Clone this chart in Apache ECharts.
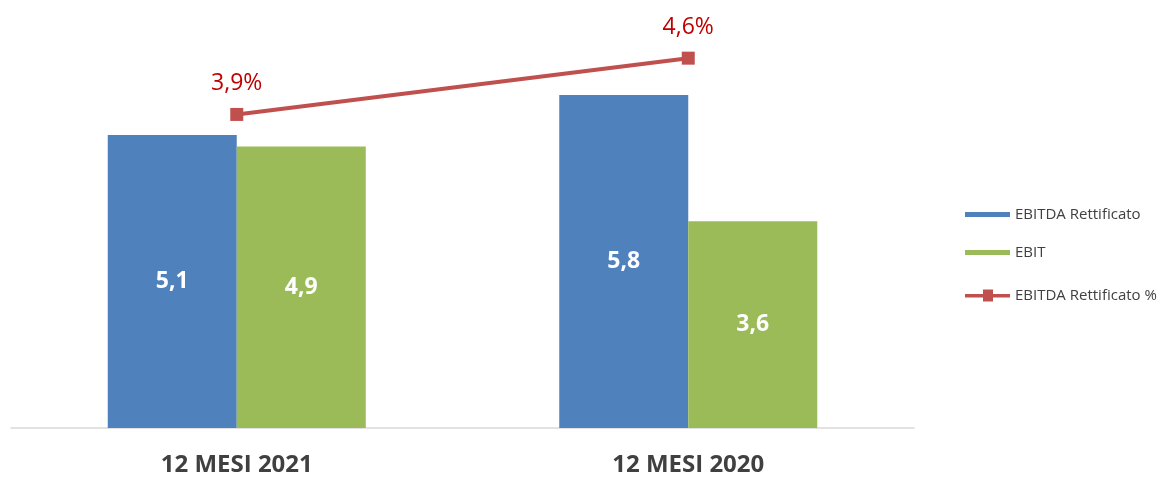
<!DOCTYPE html>
<html><head><meta charset="utf-8">
<script src="https://cdn.jsdelivr.net/npm/echarts@6/dist/echarts.min.js"></script>
<style>html,body{margin:0;padding:0;background:#fff}#c{width:1166px;height:477px}</style>
</head><body><div id="c"></div>
<script>
const categories = ['12 MESI 2021', '12 MESI 2020'];
const ebitdaRett = [5.1, 5.8];
const ebit = [4.9, 3.6];
const ebitdaPct = [3.9, 4.6];
const fmt = v => String(v).replace('.', ',');
const chart = echarts.init(document.getElementById('c'));
const legendText = { fontSize: 15, color: '#404040', fontFamily: 'Open Sans' };
chart.setOption({
  animation: false,
  textStyle: { fontFamily: 'Open Sans' },
  grid: { left: 11, right: 252, top: 26, bottom: 47, containLabel: false },
  legend: [
    {
      orient: 'vertical', left: 965, top: 207, padding: 0, itemWidth: 45, itemHeight: 5, itemGap: 23,
      textStyle: legendText,
      data: [
        { name: 'EBITDA Rettificato', icon: 'rect' },
        { name: 'EBIT', icon: 'rect' }
      ]
    },
    {
      orient: 'vertical', left: 965, top: 288, padding: 0, itemWidth: 45, itemHeight: 12,
      textStyle: legendText,
      data: [
        { name: 'EBITDA Rettificato %', icon: 'path://M0,4.5h18v-4.5h10v4.5h17v3.5h-17v4h-10v-4h-18z', itemStyle: { color: '#c0504d' } }
      ]
    }
  ],
  xAxis: {
    type: 'category', data: categories,
    axisLine: { lineStyle: { color: '#d9d9d9', width: 1.5 } },
    axisTick: { show: false },
    axisLabel: { fontSize: 24, fontWeight: 'bold', color: '#404040', margin: 25, fontFamily: 'Open Sans' }
  },
  yAxis: [
    { type: 'value', min: 0, max: 7, show: false, splitLine: { show: false } },
    { type: 'value', min: 0, max: 5, show: false, splitLine: { show: false } }
  ],
  series: [
    {
      name: 'EBITDA Rettificato', type: 'bar', data: ebitdaRett, barWidth: 129, barGap: '0%',
      itemStyle: { color: '#4f81bd' },
      label: { show: true, position: 'inside', formatter: p => fmt(p.value), color: '#fff', fontSize: 23, fontWeight: 'bold' }
    },
    {
      name: 'EBIT', type: 'bar', data: ebit, barWidth: 129, barGap: '0%',
      itemStyle: { color: '#9bbb59' },
      label: { show: true, position: 'inside', formatter: p => fmt(p.value), color: '#fff', fontSize: 23, fontWeight: 'bold' }
    },
    {
      name: 'EBITDA Rettificato %', type: 'line', yAxisIndex: 1, data: ebitdaPct,
      symbol: 'rect', symbolSize: 13,
      lineStyle: { color: '#c0504d', width: 4 },
      itemStyle: { color: '#c0504d' },
      label: { show: true, position: 'top', distance: 13, formatter: p => fmt(p.value) + '%', color: '#c00000', fontSize: 23 }
    }
  ]
});
</script></body></html>
